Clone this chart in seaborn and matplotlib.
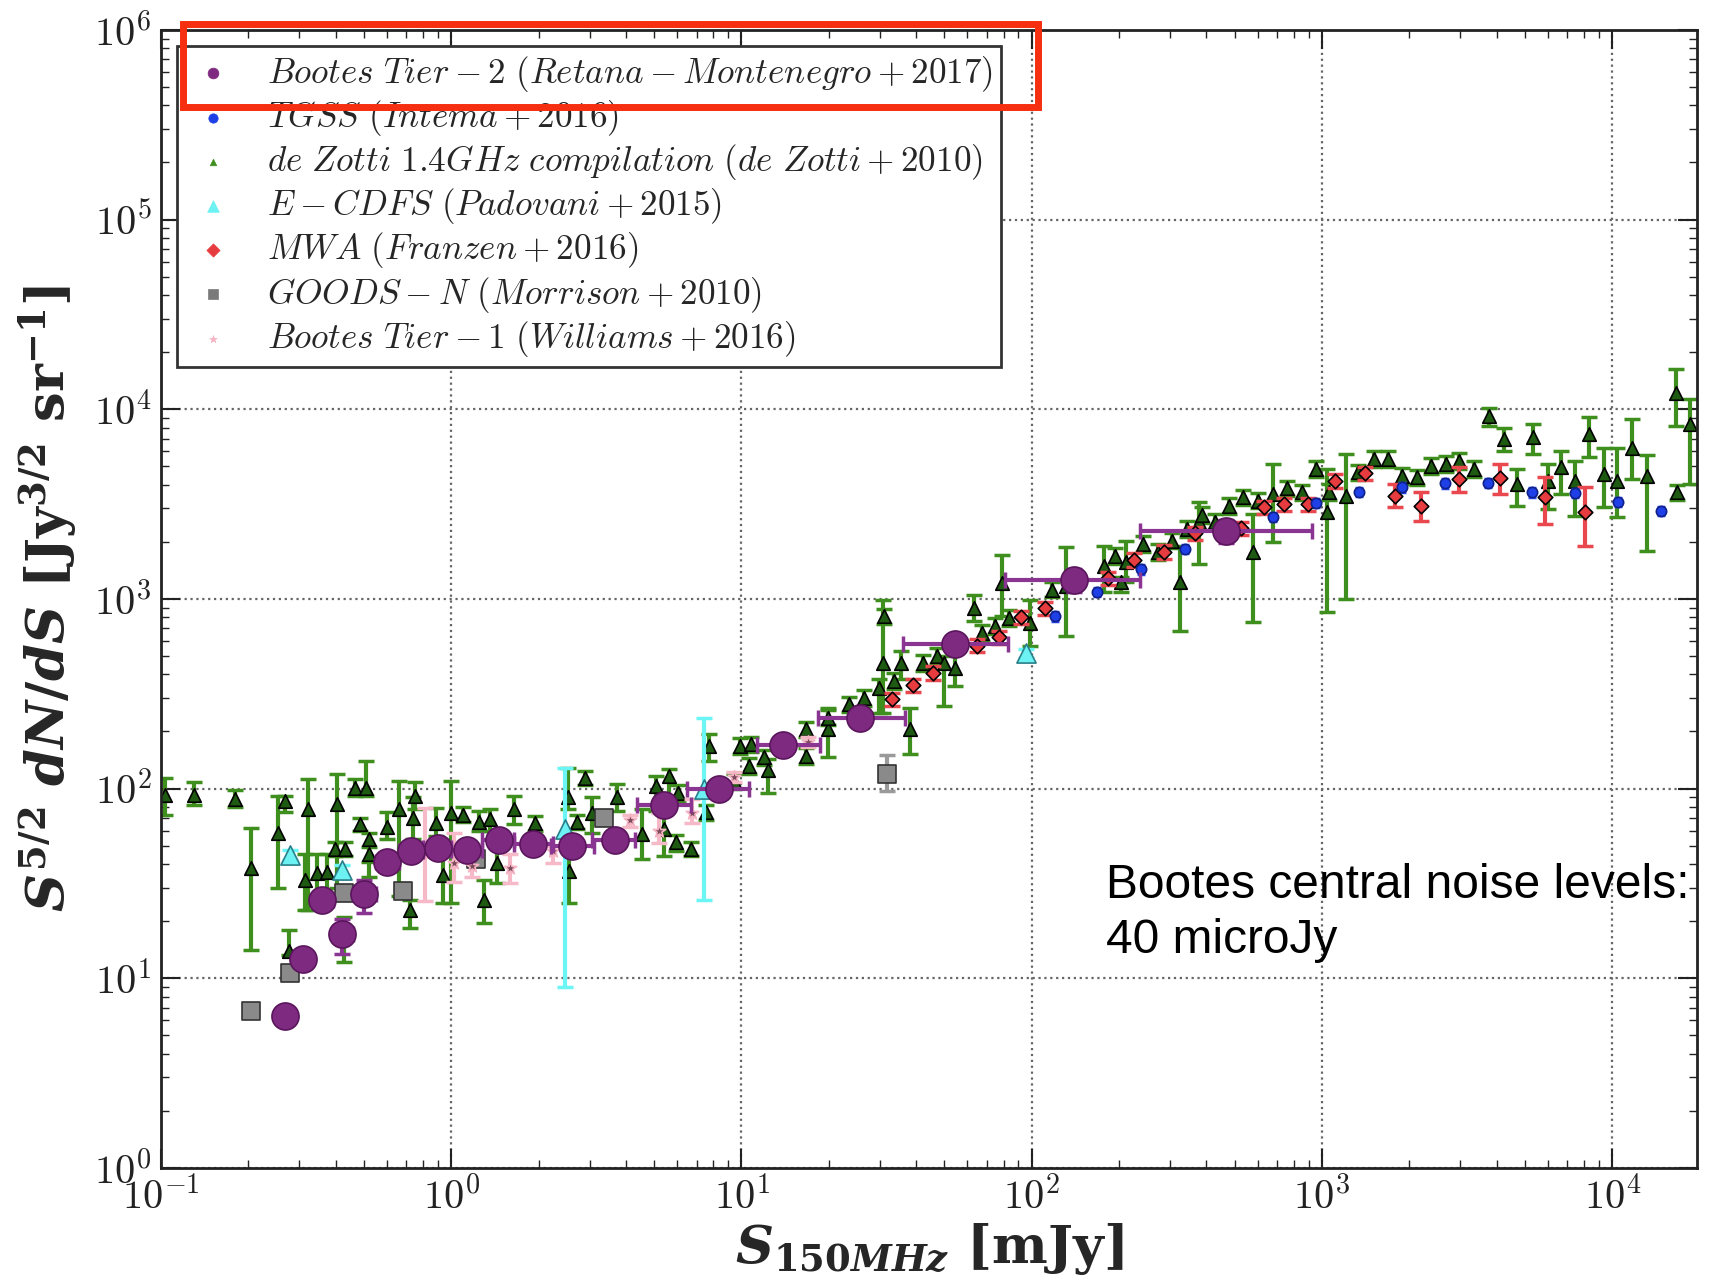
import numpy as np
import pandas as pd
import matplotlib
matplotlib.use("Agg")
import matplotlib.pyplot as plt
import seaborn as sns
from matplotlib.patches import Rectangle
from matplotlib.ticker import LogLocator, NullFormatter

# ---------------- data ----------------
# Bootes Tier-2 (Retana-Montenegro+2017)
purple_x = [0.268, 0.309, 0.36, 0.42, 0.50, 0.60, 0.726, 0.90, 1.13, 1.46, 1.92, 2.6, 3.66, 5.4, 8.4, 13.9, 25.7, 54.6, 140, 468]
purple_y = [6.3, 12.7, 26, 17.2, 27.8, 40.8, 46.7, 48.6, 47.2, 53.8, 51, 50, 53.8, 81.6, 99, 170, 237, 581, 1253, 2270]
purple_xlo = [0.25, 0.29, 0.335, 0.39, 0.46, 0.55, 0.66, 0.80, 1.0, 1.28, 1.65, 2.2, 3.05, 4.35, 6.5, 11.3, 18.4, 36, 81, 236]
purple_xhi = [0.29, 0.335, 0.39, 0.46, 0.55, 0.66, 0.80, 1.0, 1.28, 1.65, 2.24, 3.1, 4.3, 6.7, 10.6, 18.6, 36.5, 83, 236, 926]
purple_ylo = [5.9, 11.6, 23.5, 13.5, 22, 37, 42.5, 44.5, 43.3, 49.5, 47, 46, 49.5, 75.5, 92, 158, 218, 530, 1090, 1960]
purple_yhi = [6.7, 13.9, 28.5, 20.6, 33, 44.5, 51, 53, 51.5, 58, 55, 54, 58, 88, 106, 183, 256, 640, 1430, 2620]

# TGSS (Intema+2016)
blue_x = [120, 168, 238, 338, 676, 950, 1343, 1888, 2649, 3724, 5272, 7429, 10478, 14723]
blue_y = [808, 1084, 1432, 1827, 2710, 3199, 3671, 3873, 4064, 4083, 3642, 3612, 3252, 2917]

# de Zotti 1.4GHz compilation (de Zotti+2010)
green_x = [0.103, 0.13, 0.18, 0.205, 0.254, 0.267, 0.275, 0.314, 0.32, 0.344,
           0.373, 0.403, 0.397, 0.432, 0.428, 0.467, 0.51, 0.485, 0.52, 0.52,
           0.60, 0.66, 0.72, 0.74, 0.75, 0.885, 0.94, 1.0, 1.10, 1.25,
           1.30, 1.36, 1.44, 1.65, 1.95, 2.53, 2.55, 2.72, 2.89, 3.06,
           3.72, 4.54, 5.09, 5.61, 5.42, 6.05, 5.97, 6.68, 7.57, 7.73,
           9.42, 9.85, 10.8, 10.6, 12.0, 12.3, 16.7, 16.7, 19.8, 19.8,
           23.4, 26.4, 29.7, 30.7, 31.0, 33.5, 35.5, 38.0, 42.3, 47.1,
           49.7, 54.5, 63.4, 67.3, 74.6, 78.9, 83.8, 99, 117,
           131, 177, 194, 203, 212, 242, 272, 305, 323, 343,
           376, 385, 428, 478, 536, 579, 603, 676, 755, 853,
           951, 1040, 1058, 1208, 1334, 1513, 1682, 1888, 2121, 2380,
           2674, 2972, 3350, 3749, 4225, 4697, 5330, 5985, 6655, 7470,
           8340, 9360, 10400, 11690, 13200, 16560, 16660, 18580]
green_y = [93, 93, 88, 38, 58, 86, 14, 33, 78, 36,
           36.5, 83, 48, 48, 17.2, 101, 101, 65, 54, 45,
           63, 78, 22.9, 70, 91, 66, 35, 74, 73, 67,
           26, 69, 40.5, 78, 66, 90, 36.6, 67, 114, 74.5,
           90, 57.5, 103, 117, 61, 95, 52, 48, 75, 168,
           110, 168, 171, 132, 146, 126, 205, 149, 205, 237,
           278, 301, 340, 460, 811, 369, 460, 205, 460, 499,
           460, 433, 897, 662, 718, 1214, 794, 748, 1120,
           1175, 1486, 1690, 1224, 1561, 1945, 1762, 2028, 1224, 2333,
           2553, 2767, 2535, 3100, 3428, 1762, 3296, 3573, 3821, 3642,
           4830, 2858, 3672, 3500, 4642, 5458, 5458, 4460, 4368, 5036,
           5140, 5348, 4830, 9226, 6950, 4030, 7100, 4198, 4930, 4198,
           7380, 4550, 4198, 6280, 4460, 12240, 3640, 8340]
green_lo = [73, 82, 80, 14.1, 30, 75, 13.2, 23, 23, 26,
            26, 30, 44, 44, 12.2, 91, 91, 60, 34, 41,
            54, 27, 18.3, 54, 78, 56, 25, 25, 67, 60,
            19.6, 60, 31.6, 65, 60, 78, 25, 61, 105, 58,
            76, 42.5, 76, 88, 44, 86, 47, 44, 68, 140,
            100, 152, 155, 120, 133, 95, 186, 135, 146, 216,
            253, 274, 251, 251, 740, 336, 376, 152, 419, 455,
            272, 347, 763, 603, 655, 811, 723, 564, 1020,
            641, 1084, 1535, 1084, 1224, 1770, 1600, 1845, 681, 2120,
            1528, 2520, 2300, 2820, 3120, 754, 3000, 1986, 3475, 3310,
            4390, 851, 3340, 1000, 4220, 4960, 4960, 4055, 3970, 4580,
            4670, 4860, 4390, 8170, 6040, 3100, 5800, 2980, 3573, 2750,
            5570, 3035, 2690, 4285, 1795, 8170, 3310, 4030]
green_hi = [114, 108, 98, 62, 91, 91, 18, 45, 112, 45,
            45, 119, 52, 52, 21, 112, 140, 70, 58, 49,
            75, 110, 26, 90, 108, 79, 44, 110, 80, 76,
            33, 78, 52, 91, 72, 129, 52, 73, 124, 90,
            106, 78, 117, 127, 76, 105, 57, 52, 82, 193,
            120, 185, 188, 145, 160, 143, 225, 163, 267, 260,
            305, 330, 376, 991, 890, 405, 531, 267, 505, 548,
            499, 541, 1054, 727, 790, 1712, 873, 991, 1230,
            1871, 1910, 1860, 1300, 2028, 2140, 1940, 2230, 1910, 2570,
            3228, 3040, 2790, 3410, 3770, 2800, 3625, 5140, 4200, 4000,
            5310, 4830, 4040, 5800, 5100, 6000, 6000, 4900, 4800, 5540,
            5650, 5880, 5310, 10200, 8010, 4830, 8340, 5140, 6040, 5350,
            9150, 6280, 6280, 8930, 5730, 16250, 4000, 11290]

# E-CDFS (Padovani+2015)
cyan_x = [0.278, 0.42, 2.47, 7.4, 95.7]
cyan_y = [44.8, 37, 61, 99, 516]
cyan_lo = [42, 34.5, 8.95, 25.8, 490]
cyan_hi = [47.5, 39.5, 129, 235, 542]

# MWA (Franzen+2016)
red_x = [33, 39, 45.7, 65, 77, 92, 111, 183, 226, 286, 364, 527, 632, 741, 897, 1111, 1402, 1787, 2195, 2955, 4116, 5888, 8040]
red_y = [295, 351, 408, 567, 631, 803, 897, 1285, 1611, 1774, 2223, 2355, 3035, 3164, 3164, 4198, 4604, 3500, 3100, 4285, 4315, 3428, 2884]
red_lo = [272, 323, 375, 522, 580, 739, 825, 1182, 1482, 1632, 2045, 2167, 2792, 2911, 2911, 3862, 4236, 3035, 2582, 3640, 3573, 2483, 1910]
red_hi = [319, 379, 441, 612, 681, 867, 969, 1388, 1740, 1916, 2401, 2543, 3278, 3417, 3417, 4534, 4972, 4030, 3640, 4930, 5140, 4368, 3873]

# GOODS-N (Morrison+2010)
grey_x = [0.204, 0.279, 0.426, 0.68, 1.22, 3.37, 31.6]
grey_y = [6.7, 10.6, 28, 29, 42.5, 70, 120]
grey_lo = [6.4, 10.1, 26.7, 27.7, 40.5, 66.8, 97]
grey_hi = [7.0, 11.1, 29.3, 30.3, 44.5, 73.2, 150]

# Bootes Tier-1 (Williams+2016)
pink_x = [0.81, 1.02, 1.18, 1.6, 2.24, 4.13, 5.19, 6.73, 9.4, 17]
pink_y = [45.7, 40.5, 38.9, 38, 46.7, 68.7, 60, 74.5, 115, 176]
pink_lo = [25.4, 32, 34, 31.6, 40.5, 63, 51.6, 66, 108, 165]
pink_hi = [79, 58, 44, 45, 50, 73, 74.5, 88, 122, 187]

lab_purple = r'$Bootes\ Tier-2\ (Retana-Montenegro+2017)$'
lab_blue = r'$TGSS\ (Intema+2016)$'
lab_green = r'$de\ Zotti\ 1.4GHz\ compilation\ (de\ Zotti+2010)$'
lab_cyan = r'$E-CDFS\ (Padovani+2015)$'
lab_red = r'$MWA\ (Franzen+2016)$'
lab_grey = r'$GOODS-N\ (Morrison+2010)$'
lab_pink = r'$Bootes\ Tier-1\ (Williams+2016)$'

xtick_vals = [0.1, 1, 10, 100, 1000, 10000]
xtick_labels = [r'$10^{-1}$', r'$10^{0}$', r'$10^{1}$', r'$10^{2}$', r'$10^{3}$', r'$10^{4}$']
ytick_vals = [1, 10, 100, 1000, 10000, 100000, 1000000]
ytick_labels = [r'$10^{0}$', r'$10^{1}$', r'$10^{2}$', r'$10^{3}$', r'$10^{4}$', r'$10^{5}$', r'$10^{6}$']

# ---------------- style ----------------
sns.set_theme(style="ticks")
plt.rcParams['font.family'] = ['DejaVu Sans']
plt.rcParams['mathtext.fontset'] = 'cm'
plt.rcParams['mathtext.rm'] = 'DejaVu Serif:bold'
plt.rcParams['mathtext.it'] = 'DejaVu Serif:italic:bold'
plt.rcParams['mathtext.bf'] = 'DejaVu Serif:bold'

fig = plt.figure(figsize=(17.09, 12.77), dpi=100)
ax = fig.add_axes([0.0942, 0.0854, 0.8988, 0.8912])
ax.set_xscale('log')
ax.set_yscale('log')


def series(x, y, lo, hi, marker, s, face, edge, ecol, label, z, xlo=None, xhi=None, elw=3.0, cap=6):
    x = np.asarray(x, float)
    y = np.asarray(y, float)
    yerr = [y - np.asarray(lo, float), np.asarray(hi, float) - y]
    xerr = None
    if xlo is not None:
        xerr = [x - np.asarray(xlo, float), np.asarray(xhi, float) - x]
    ax.errorbar(x, y, yerr=yerr, xerr=xerr, fmt='none', ecolor=ecol,
                elinewidth=elw, capsize=cap, capthick=2.5, zorder=z)
    df = pd.DataFrame({'S': x, 'N': y})
    sns.scatterplot(data=df, x='S', y='N', marker=marker, s=s, color=face,
                    edgecolor=edge, linewidth=1.2, label=label, ax=ax,
                    zorder=z + 0.5)


series(green_x, green_y, green_lo, green_hi, '^', 95, '#1f5a12', 'black', '#3f8f1f', lab_green, 2)
series(red_x, red_y, red_lo, red_hi, 'D', 55, '#e63b3f', 'black', '#e9484e', lab_red, 3)
series(blue_x, blue_y, np.array(blue_y) * 0.95, np.array(blue_y) * 1.05, 'o', 55, '#1e40e6', '#10208a', '#2a4af0', lab_blue, 3, cap=3)
series(grey_x, grey_y, grey_lo, grey_hi, 's', 160, '#8a8a8a', '#333333', '#9a9a9a', lab_grey, 4)
series(cyan_x, cyan_y, cyan_lo, cyan_hi, '^', 190, '#6cf2f2', '#2a7f8a', '#6cf5f5', lab_cyan, 4)
series(pink_x, pink_y, pink_lo, pink_hi, '*', 90, '#7a4a5a', '#f5b3c3', '#f6b9c8', lab_pink, 4)
series(purple_x, purple_y, purple_ylo, purple_yhi, 'o', 380, '#7e2a80', '#5a155c', '#8a3592', lab_purple, 6,
       xlo=purple_xlo, xhi=purple_xhi)

ax.set_xlim(0.1, 1.96e4)
ax.set_ylim(1, 1e6)

# ticks
ax.set_xticks(xtick_vals)
ax.set_xticklabels(xtick_labels)
ax.set_yticks(ytick_vals)
ax.set_yticklabels(ytick_labels)
ax.xaxis.set_minor_locator(LogLocator(base=10, subs=np.arange(2, 10), numticks=20))
ax.yaxis.set_minor_locator(LogLocator(base=10, subs=np.arange(2, 10), numticks=20))
ax.xaxis.set_minor_formatter(NullFormatter())
ax.yaxis.set_minor_formatter(NullFormatter())
ax.tick_params(which='both', direction='in', top=True, right=True, colors='#222222')
ax.tick_params(which='major', length=14, width=1.5, labelsize=29, pad=7)
ax.tick_params(which='minor', length=6, width=1.0)
ax.set_axisbelow(True)
ax.grid(True, which='major', linestyle=':', color='#666666', linewidth=1.6)
for sp in ax.spines.values():
    sp.set_linewidth(2.0)
    sp.set_color('#222222')

ax.set_xlabel(r'$S_{150MHz}\ [\mathrm{mJy}]$', fontsize=38, labelpad=2, math_fontfamily='custom')
ax.set_ylabel(r'$S^{5/2}\ dN/dS\ [\mathrm{Jy}^{3/2}\ \mathrm{sr}^{-1}]$', fontsize=38, labelpad=10,
              math_fontfamily='custom')

# legend
h, l = ax.get_legend_handles_labels()
hmap = dict(zip(l, h))
order = [lab_purple, lab_blue, lab_green, lab_cyan, lab_red, lab_grey, lab_pink]
leg = ax.legend([hmap[k] for k in order], order, loc='upper left', bbox_to_anchor=(0.0104, 0.986),
                borderaxespad=0, fontsize=25.3, markerscale=0.4, frameon=True, fancybox=False,
                edgecolor='#333333', framealpha=1, borderpad=0.22, handlelength=1.6,
                handletextpad=0.75, labelspacing=0.12)
leg.get_frame().set_linewidth(2)
leg.set_zorder(20)
leg_sizes = [60, 45, 22, 70, 45, 55, 30]
leg_faces = ['#7e2a80', '#1e40e6', '#3f8f1f', '#6cf2f2', '#e63b3f', '#7a7a7a', '#f5b3c3']
for hd, sz, fc in zip(leg.legend_handles, leg_sizes, leg_faces):
    hd.set_sizes([sz])
    hd.set_edgecolor(fc)
    hd.set_facecolor(fc)
    hd.set_linewidth(0.5)

ax.text(0.615, 0.268, 'Bootes central noise levels:\n40 microJy', transform=ax.transAxes,
        fontsize=34.5, family='Liberation Sans', color='black', va='top', ha='left',
        linespacing=1.3, zorder=25)

fig.add_artist(Rectangle((0.107, 0.9162), 0.5003, 0.065, transform=fig.transFigure,
                         fill=False, edgecolor='#f52f0f', linewidth=5, zorder=30))

fig.savefig('out.png', dpi=100)
